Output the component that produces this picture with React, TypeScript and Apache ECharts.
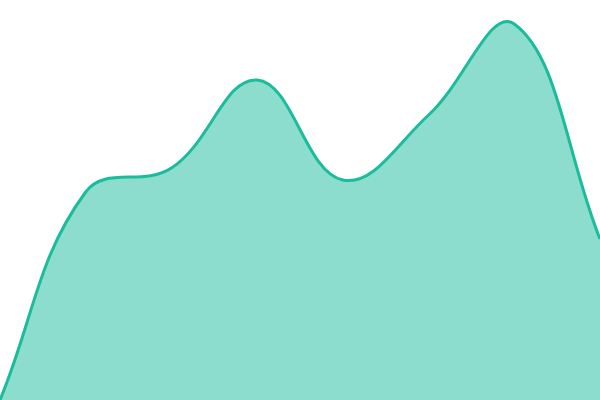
import { useEffect, useRef } from 'react'
import * as echarts from 'echarts'

const categories = ['1', '2', '3', '4', '5', '6', '7', '8']
const values = [0, 208, 232, 320, 220, 285, 376, 161]
const yMin = 0
const yMax = 400
const tension = 0.4

const lineColor = '#1abc9c'
const fillColor = 'rgba(26, 188, 156, 0.5)'

// cardinal-ish spline, control points like a tension based line chart
const AreaSpline = echarts.graphic.extendShape({
  shape: {
    points: [] as number[][],
    baseY: 0,
    top: 0,
    closed: false,
  },
  buildPath(ctx: any, shape: any) {
    const pts: number[][] = shape.points
    const n = pts.length
    if (n < 2) return
    const cps = pts.map((cur, i) => {
      const prev = i > 0 ? pts[i - 1] : cur
      const next = i < n - 1 ? pts[i + 1] : cur
      const d01 = Math.hypot(cur[0] - prev[0], cur[1] - prev[1])
      const d12 = Math.hypot(next[0] - cur[0], next[1] - cur[1])
      let s01 = d01 / (d01 + d12)
      let s12 = d12 / (d01 + d12)
      if (isNaN(s01)) s01 = 0
      if (isNaN(s12)) s12 = 0
      const fa = tension * s01
      const fb = tension * s12
      const clampY = (y: number) => Math.min(shape.baseY, Math.max(shape.top, y))
      return {
        prev: [cur[0] - fa * (next[0] - prev[0]), clampY(cur[1] - fa * (next[1] - prev[1]))],
        next: [cur[0] + fb * (next[0] - prev[0]), clampY(cur[1] + fb * (next[1] - prev[1]))],
      }
    })
    ctx.moveTo(pts[0][0], pts[0][1])
    for (let i = 0; i < n - 1; i++) {
      const c1 = cps[i].next
      const c2 = cps[i + 1].prev
      ctx.bezierCurveTo(c1[0], c1[1], c2[0], c2[1], pts[i + 1][0], pts[i + 1][1])
    }
    if (shape.closed) {
      ctx.lineTo(pts[n - 1][0], shape.baseY)
      ctx.lineTo(pts[0][0], shape.baseY)
      ctx.closePath()
    }
  },
})
echarts.graphic.registerShape('areaSpline', AreaSpline)

function App() {
  const chartRef = useRef<HTMLDivElement>(null)

  useEffect(() => {
    if (!chartRef.current) return
    const chart = echarts.init(chartRef.current, null, { renderer: 'svg' })

    const option: echarts.EChartsOption = {
      animation: false,
      backgroundColor: '#ffffff',
      grid: { left: 0, right: 0, top: 0, bottom: 0 },
      xAxis: {
        type: 'category',
        data: categories,
        boundaryGap: false,
        show: false,
      },
      yAxis: {
        type: 'value',
        min: yMin,
        max: yMax,
        show: false,
      },
      series: [
        {
          type: 'custom',
          data: [[0, 0]],
          clip: false,
          renderItem: (_params: any, api: any) => {
            const points = values.map((v, i) => api.coord([i, v]))
            const baseY = api.coord([0, yMin])[1]
            const top = api.coord([0, yMax])[1]
            return {
              type: 'group',
              children: [
                {
                  type: 'areaSpline',
                  shape: { points, baseY, top, closed: true },
                  style: { fill: fillColor, stroke: 'none' },
                },
                {
                  type: 'areaSpline',
                  shape: { points, baseY, top, closed: false },
                  style: { fill: 'none', stroke: lineColor, lineWidth: 3 },
                },
              ],
            }
          },
        } as any,
      ],
    }

    chart.setOption(option)
    return () => chart.dispose()
  }, [])

  return (
    <div
      ref={chartRef}
      style={{ position: 'fixed', left: 0, top: 0, width: '600px', height: '400px' }}
    />
  )
}

export default App
